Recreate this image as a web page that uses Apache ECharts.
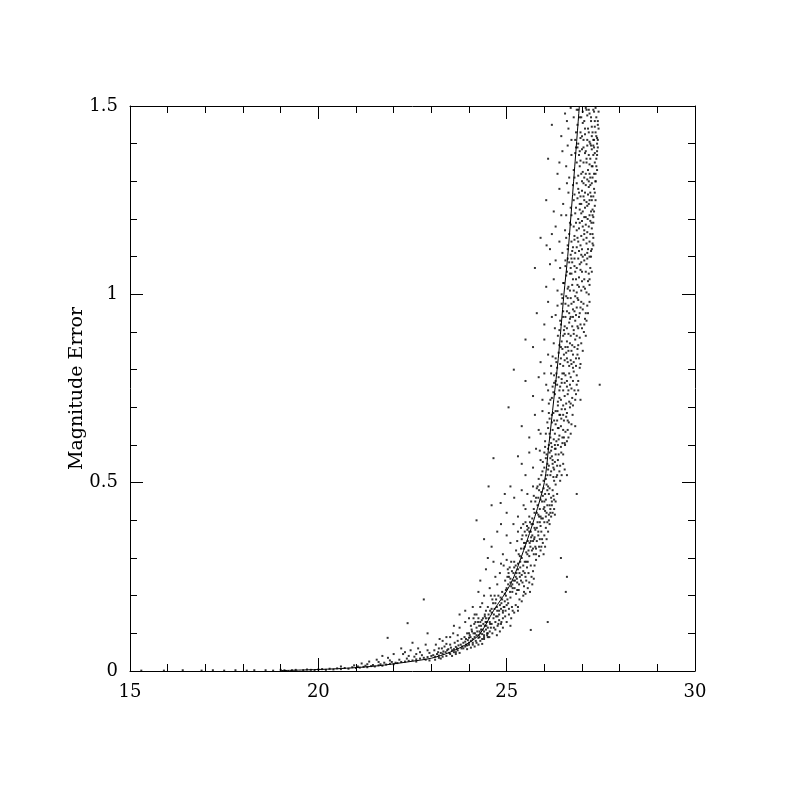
<!DOCTYPE html>
<html>
<head>
<meta charset="utf-8">
<script src="https://cdn.jsdelivr.net/npm/echarts@6/dist/echarts.min.js"></script>
<style>html,body{margin:0;padding:0;background:#fff;}#chart{width:800px;height:800px;}</style>
</head>
<body>
<div id="chart"></div>
<script>
// Axis ticks
const xTicks = [15, 20, 25, 30];
const yTicks = [0, 0.5, 1, 1.5];

// Fitted error curve (magnitude, error)
const curveMag = [19.0, 20.0, 20.5, 21.0, 21.5, 22.0, 22.5, 23.0, 23.5, 24.0, 24.3, 24.65, 25.1, 25.45, 25.75, 26.0, 26.12, 26.25, 26.37, 26.52, 26.62, 26.7, 26.8, 26.93];
const curveErr = [0.001, 0.004, 0.006, 0.009, 0.013, 0.019, 0.026, 0.034, 0.05, 0.075, 0.1, 0.16, 0.23, 0.32, 0.41, 0.5, 0.6, 0.72, 0.83, 1.0, 1.1, 1.2, 1.33, 1.5];

// Individual stars [magnitude, error]
const brightStars = [
[15.3,0.001],[15.9,0.001],[16.4,0.002],[16.9,0.001],[17.2,0.002],[17.5,0.001],[17.8,0.002],[18.1,0.001],[18.3,0.002],[18.6,0.002],[18.8,0.001],[19.0,0.003],[19.1,0.002],[19.3,0.002],[19.4,0.003],[19.6,0.002],[19.7,0.004],[19.8,0.003],[19.9,0.002],[20.0,0.004],[20.1,0.005],[20.2,0.003],[20.3,0.006],[20.4,0.004],[20.5,0.007],[20.6,0.005],[20.7,0.008],[20.8,0.006],[20.9,0.01],[21.0,0.008],[20.95,0.015],[20.6,0.012],
[21.05,0.012],[21.1,0.009],[21.15,0.02],[21.2,0.011],[21.25,0.014],[21.3,0.01],[21.35,0.025],[21.4,0.013],[21.45,0.016],[21.5,0.012],[21.55,0.03],[21.6,0.015],[21.65,0.018],[21.7,0.014],[21.75,0.022],[21.8,0.017],[21.85,0.035],[21.9,0.019],[21.95,0.024],[22.0,0.018],[21.6,0.024],[21.3,0.018],[21.9,0.028],[22.05,0.022],[21.7,0.04],
[22.1,0.021],[22.15,0.03],[22.2,0.024],[22.25,0.045],[22.3,0.025],[22.35,0.033],[22.4,0.027],[22.45,0.055],[22.5,0.028],[22.55,0.038],[22.6,0.031],[22.65,0.06],[22.7,0.033],[22.75,0.042],[22.8,0.035],[22.85,0.07],[22.9,0.037],[22.95,0.048],[23.0,0.04],[22.8,0.19],[22.4,0.04],[22.6,0.045],[22.9,0.055],[22.7,0.05],[22.3,0.05],[22.2,0.06],[22.5,0.075],[22.0,0.045],[22.85,0.03],[22.6,0.025],[22.37,0.127],[21.84,0.088],[22.9,0.1]
];
const midStars = [
[23.05,0.042],[23.08,0.055],[23.1,0.038],[23.12,0.07],[23.15,0.045],[23.18,0.05],[23.2,0.041],[23.22,0.085],[23.25,0.048],[23.28,0.06],[23.3,0.046],[23.32,0.052],[23.35,0.065],[23.38,0.05],[23.4,0.09],[23.42,0.055],[23.45,0.058],[23.48,0.048],[23.5,0.07],[23.52,0.062],[23.55,0.055],[23.58,0.1],[23.6,0.058],[23.62,0.075],[23.65,0.064],[23.68,0.06],[23.7,0.08],[23.72,0.068],[23.75,0.115],[23.78,0.07],[23.8,0.085],[23.82,0.065],[23.85,0.075],[23.88,0.09],[23.9,0.078],[23.92,0.07],[23.95,0.1],[23.97,0.082],[24.0,0.088],[24.0,0.075],[23.3,0.08],[23.6,0.12],[23.9,0.13],[23.5,0.09],[23.7,0.095],[23.2,0.06],[23.85,0.06],[23.65,0.05],[23.95,0.068],[23.4,0.072],
[24.02,0.095],[24.05,0.08],[24.07,0.11],[24.1,0.085],[24.12,0.1],[24.15,0.09],[24.17,0.13],[24.2,0.095],[24.22,0.105],[24.25,0.088],[24.27,0.12],[24.3,0.1],[24.32,0.11],[24.35,0.098],[24.37,0.14],[24.4,0.105],[24.42,0.12],[24.45,0.11],[24.47,0.13],[24.5,0.115],[24.05,0.12],[24.15,0.15],[24.3,0.17],[24.2,0.4],[24.45,0.16],[24.35,0.085],[24.48,0.095],[24.1,0.075],[24.4,0.09],[24.25,0.14],[24.5,0.1],[24.38,0.125],[24.28,0.09],[24.18,0.08],[24.42,0.15],[24.12,0.14],[24.55,0.105],
[23.75,0.15],[23.9,0.16],[24.0,0.14],[24.1,0.17],[24.2,0.15],[24.3,0.13],[24.35,0.18],[24.45,0.14],[24.5,0.17],[24.55,0.13],[24.6,0.155],[24.62,0.19],[24.65,0.14],[24.68,0.165],[24.7,0.18],[24.72,0.145],[24.75,0.16],[24.78,0.2],[24.8,0.15],[24.82,0.175],[24.85,0.165],[24.88,0.19],[24.9,0.155],[24.92,0.17],[24.95,0.185],[24.97,0.16],[25.0,0.175],[25.02,0.19],[24.6,0.125],[24.7,0.13],[24.8,0.135],[24.9,0.14],[24.58,0.2],[24.4,0.2],[24.25,0.21],[24.85,0.125],[25.3,0.16],[25.64,0.109],[26.09,0.13],[24.66,0.115],[24.76,0.12],
[24.3,0.24],[24.45,0.27],[24.55,0.22],[24.65,0.29],[24.75,0.23],[24.82,0.26],[24.88,0.21],[24.92,0.28],[24.96,0.24],[25.0,0.22],[25.03,0.27],[25.06,0.25],[25.09,0.21],[25.12,0.29],[25.15,0.23],[25.18,0.26],[25.21,0.22],[25.24,0.28],[25.27,0.245],[25.3,0.27],[25.33,0.23],[25.36,0.29],[25.4,0.255],[25.44,0.28],[25.48,0.26],[25.52,0.29],[25.1,0.235],[25.2,0.275],[25.0,0.295],[24.95,0.205],[25.25,0.205],[25.35,0.25],[25.05,0.26],[25.15,0.21],[24.85,0.285],[24.7,0.25],[26.57,0.21],[26.6,0.25],[25.42,0.235],[25.28,0.215],[24.5,0.3],
[24.6,0.33],[24.75,0.37],[24.9,0.31],[25.0,0.36],[25.1,0.34],[25.18,0.39],[25.25,0.32],[25.3,0.37],[25.35,0.305],[25.4,0.35],[25.44,0.39],[25.48,0.33],[25.52,0.36],[25.55,0.31],[25.58,0.38],[25.61,0.34],[25.64,0.37],[25.67,0.32],[25.7,0.39],[25.73,0.35],[25.76,0.33],[25.8,0.38],[25.84,0.36],[25.88,0.395],[25.5,0.395],[25.6,0.305],[25.7,0.345],[25.45,0.325],[25.55,0.375],[25.65,0.355],[25.38,0.38],[25.28,0.345],[25.92,0.37],[26.44,0.3],[24.4,0.35],[24.85,0.39],[25.78,0.31],[25.62,0.395],[25.5,0.34],[25.74,0.38]
];
const faintStars = [
[24.6,0.44],[25.0,0.42],[25.2,0.46],[25.3,0.41],[25.4,0.48],[25.5,0.43],[25.55,0.47],[25.6,0.41],[25.65,0.45],[25.7,0.49],[25.74,0.42],[25.78,0.46],[25.82,0.44],[25.86,0.48],[25.9,0.41],[25.94,0.45],[25.98,0.43],[26.02,0.47],[26.06,0.42],[26.1,0.49],[26.14,0.44],[26.18,0.46],[26.22,0.48],[26.3,0.45],[25.88,0.495],[25.96,0.405],[26.04,0.455],[25.84,0.415],[26.12,0.415],[25.72,0.465],[25.92,0.475],[26.0,0.435],[25.45,0.44],[25.1,0.49],[24.95,0.47],[26.26,0.43],[25.8,0.485],[26.08,0.48],[24.52,0.49],[24.84,0.446],[26.86,0.47],
[25.3,0.57],[25.5,0.52],[25.6,0.58],[25.7,0.54],[25.78,0.59],[25.85,0.51],[25.9,0.56],[25.95,0.53],[26.0,0.58],[26.04,0.51],[26.08,0.55],[26.12,0.6],[26.16,0.52],[26.2,0.57],[26.24,0.54],[26.28,0.59],[26.32,0.515],[26.36,0.56],[26.4,0.53],[26.45,0.58],[26.5,0.55],[26.55,0.6],[26.1,0.535],[26.18,0.585],[26.26,0.505],[26.34,0.545],[26.06,0.575],[25.98,0.505],[26.42,0.505],[26.3,0.575],[25.88,0.585],[24.65,0.565],[25.4,0.55],[26.6,0.52],[26.22,0.55],
[25.4,0.65],[25.6,0.62],[25.75,0.68],[25.85,0.64],[25.95,0.69],[26.02,0.61],[26.08,0.66],[26.14,0.63],[26.2,0.68],[26.25,0.615],[26.3,0.655],[26.35,0.69],[26.4,0.625],[26.45,0.67],[26.5,0.64],[26.55,0.695],[26.6,0.61],[26.65,0.66],[26.7,0.63],[26.75,0.68],[26.82,0.65],[26.28,0.6],[26.38,0.645],[26.48,0.605],[26.58,0.675],[26.18,0.605],[26.22,0.64],[26.42,0.68],[26.62,0.64],[26.12,0.685],[25.05,0.7],[25.9,0.63],[26.52,0.62],[26.34,0.665],
[25.5,0.77],[25.19,0.8],[25.7,0.73],[25.85,0.78],[25.95,0.72],[26.05,0.76],[26.12,0.71],[26.18,0.79],[26.24,0.74],[26.3,0.77],[26.36,0.715],[26.42,0.755],[26.48,0.79],[26.54,0.73],[26.6,0.77],[26.66,0.715],[26.72,0.75],[26.78,0.795],[26.84,0.735],[26.9,0.77],[26.96,0.72],[26.5,0.705],[26.56,0.785],[26.64,0.745],[26.7,0.78],[26.4,0.725],[26.26,0.765],[26.32,0.79],[26.76,0.705],[26.86,0.76],[26.1,0.745],[26.2,0.725],[26.46,0.765],[26.0,0.79],[27.47,0.76],
[25.7,0.86],[25.9,0.82],[26.0,0.88],[26.1,0.84],[26.18,0.81],[26.25,0.87],[26.3,0.83],[26.36,0.89],[26.42,0.815],[26.48,0.855],[26.54,0.825],[26.6,0.875],[26.66,0.81],[26.72,0.85],[26.78,0.895],[26.84,0.83],[26.9,0.865],[26.96,0.815],[27.02,0.85],[26.58,0.845],[26.7,0.825],[26.82,0.88],[26.5,0.89],[26.64,0.895],[26.76,0.805],[26.88,0.84],[26.44,0.86],[26.22,0.835],[26.94,0.885],[26.34,0.805],[25.5,0.88],[26.62,0.86],
[25.8,0.95],[26.0,0.92],[26.1,0.98],[26.2,0.94],[26.28,0.91],[26.35,0.97],[26.42,0.93],[26.48,0.99],[26.54,0.915],[26.6,0.955],[26.66,0.925],[26.72,0.975],[26.78,0.905],[26.84,0.945],[26.9,0.985],[26.96,0.92],[27.02,0.96],[27.08,0.935],[26.7,0.94],[26.82,0.995],[26.94,0.95],[26.62,0.99],[26.76,0.96],[26.88,0.915],[26.56,0.975],[26.4,0.905],[26.98,0.98],[26.3,0.945],[27.05,0.9],[26.5,0.94],
[25.75,1.07],[26.05,1.02],[26.15,1.08],[26.25,1.04],[26.35,1.01],[26.42,1.07],[26.5,1.03],[26.56,1.09],[26.62,1.015],[26.68,1.055],[26.74,1.025],[26.8,1.075],[26.86,1.005],[26.92,1.045],[26.98,1.085],[27.04,1.02],[27.1,1.06],[27.16,1.035],[26.72,1.095],[26.84,1.04],[26.96,1.065],[27.06,1.09],[26.6,1.06],[26.78,1.01],[26.9,1.095],[27.12,1.005],[26.46,1.0],[26.66,1.085],[27.0,1.035],[26.3,1.09],
[25.9,1.15],[26.15,1.12],[26.3,1.18],[26.4,1.14],[26.48,1.11],[26.55,1.17],[26.62,1.13],[26.68,1.19],[26.74,1.115],[26.8,1.155],[26.86,1.125],[26.92,1.175],[26.98,1.105],[27.04,1.145],[27.1,1.185],[27.16,1.12],[27.22,1.16],[27.28,1.135],[26.9,1.14],[27.0,1.195],[27.12,1.15],[27.2,1.1],[26.84,1.19],[26.96,1.13],[27.06,1.17],[26.7,1.105],[26.58,1.15],[27.25,1.19],[26.2,1.16],[27.14,1.11],[26.06,1.13],
[26.05,1.25],[26.25,1.22],[26.4,1.28],[26.5,1.24],[26.58,1.21],[26.64,1.27],[26.7,1.23],[26.76,1.29],[26.82,1.215],[26.88,1.255],[26.94,1.225],[27.0,1.275],[27.06,1.205],[27.12,1.245],[27.18,1.285],[27.24,1.22],[27.3,1.26],[27.34,1.235],[27.04,1.26],[27.15,1.2],[27.26,1.295],[26.98,1.24],[27.1,1.29],[27.2,1.25],[26.9,1.28],[26.6,1.295],[27.28,1.21],[26.45,1.21],[27.08,1.23],[27.22,1.27],
[26.1,1.36],[26.35,1.32],[26.48,1.38],[26.58,1.34],[26.66,1.31],[26.72,1.37],[26.78,1.33],[26.84,1.39],[26.9,1.315],[26.96,1.355],[27.02,1.325],[27.08,1.375],[27.14,1.305],[27.2,1.345],[27.26,1.385],[27.32,1.32],[27.38,1.36],[27.3,1.395],[27.22,1.31],[27.12,1.35],[27.04,1.39],[27.28,1.34],[27.36,1.3],[26.94,1.38],[27.18,1.37],[26.62,1.395],[26.4,1.35],[27.1,1.32],[27.34,1.375],[27.0,1.3],
[26.2,1.45],[26.45,1.42],[26.55,1.48],[26.64,1.44],[26.72,1.41],[26.78,1.47],[26.84,1.43],[26.9,1.49],[26.96,1.415],[27.02,1.455],[27.08,1.425],[27.14,1.475],[27.2,1.405],[27.26,1.445],[27.32,1.485],[27.38,1.42],[27.42,1.46],[27.36,1.495],[27.3,1.41],[27.24,1.47],[27.16,1.44],[27.1,1.495],[27.04,1.41],[27.34,1.445],[27.4,1.4],[26.6,1.46],[26.7,1.495],[27.18,1.49],[27.28,1.43],[26.98,1.47]
];
const coreStars = [
[23.92,0.085],[24.04,0.09],[24.16,0.1],[24.26,0.095],[24.36,0.11],[24.46,0.12],[24.56,0.125],[24.08,0.105],[24.2,0.115],[24.32,0.12],[24.44,0.13],[24.52,0.14],[24.14,0.125],[24.24,0.13],[24.34,0.135],[24.58,0.115],[24.0,0.1],[24.28,0.105],[24.4,0.095],[24.48,0.1],
[24.42,0.145],[24.52,0.15],[24.6,0.165],[24.66,0.15],[24.74,0.17],[24.8,0.16],[24.86,0.18],[24.94,0.17],[25.04,0.18],[25.1,0.195],[24.64,0.18],[24.72,0.19],[24.84,0.195],[24.98,0.2],[25.14,0.17],[24.76,0.145],[24.9,0.16],[25.06,0.165],[24.56,0.16],[24.68,0.2],
[24.98,0.215],[25.04,0.23],[25.1,0.245],[25.16,0.22],[25.22,0.24],[25.26,0.26],[25.32,0.215],[25.38,0.24],[25.44,0.265],[25.5,0.25],[25.08,0.275],[25.14,0.265],[25.2,0.29],[25.3,0.285],[25.4,0.3],[25.46,0.21],[25.54,0.275],[25.24,0.25],[25.34,0.26],[25.18,0.24],[25.02,0.25],[25.12,0.225],[25.28,0.235],[25.36,0.275],[25.48,0.29],
[25.32,0.31],[25.38,0.325],[25.42,0.36],[25.46,0.34],[25.52,0.315],[25.56,0.345],[25.6,0.37],[25.63,0.33],[25.68,0.36],[25.72,0.31],[25.76,0.375],[25.8,0.345],[25.86,0.33],[25.9,0.385],[25.54,0.385],[25.66,0.39],[25.7,0.325],[25.74,0.355],[25.82,0.395],[25.58,0.32],[25.48,0.37],[25.94,0.35],[25.64,0.345],[25.78,0.325],[25.84,0.37],
[25.68,0.405],[25.72,0.43],[25.76,0.45],[25.8,0.42],[25.84,0.46],[25.88,0.43],[25.92,0.405],[25.96,0.465],[26.0,0.45],[26.04,0.41],[26.08,0.44],[26.12,0.47],[26.16,0.42],[26.2,0.45],[26.24,0.465],[26.28,0.415],[26.34,0.47],[25.9,0.455],[25.98,0.485],[26.06,0.495],[26.14,0.485],[25.82,0.49],[26.3,0.495],[26.02,0.425],[25.86,0.41],
[25.92,0.52],[25.96,0.555],[26.0,0.54],[26.04,0.565],[26.08,0.52],[26.12,0.545],[26.14,0.58],[26.18,0.53],[26.22,0.56],[26.26,0.535],[26.3,0.59],[26.34,0.52],[26.38,0.575],[26.42,0.545],[26.46,0.52],[26.5,0.575],[26.54,0.535],[26.02,0.595],[26.1,0.59],[26.2,0.595],[26.28,0.555],[26.36,0.6],[26.44,0.595],[26.16,0.565],[26.24,0.515],
[26.04,0.63],[26.1,0.645],[26.16,0.62],[26.2,0.66],[26.24,0.685],[26.28,0.63],[26.32,0.61],[26.36,0.645],[26.4,0.68],[26.44,0.65],[26.48,0.62],[26.52,0.665],[26.56,0.635],[26.6,0.685],[26.64,0.62],[26.68,0.7],[26.72,0.655],[26.14,0.67],[26.26,0.665],[26.46,0.695],[26.54,0.605],[26.62,0.665],[26.38,0.615],[26.3,0.69],[26.5,0.68],
[26.16,0.72],[26.22,0.755],[26.28,0.735],[26.34,0.76],[26.38,0.78],[26.44,0.72],[26.5,0.745],[26.54,0.765],[26.58,0.71],[26.62,0.735],[26.68,0.76],[26.74,0.725],[26.8,0.745],[26.86,0.785],[26.4,0.745],[26.52,0.79],[26.6,0.755],[26.66,0.79],[26.7,0.71],[26.76,0.77],[26.82,0.72],[26.46,0.775],[26.36,0.705],[26.26,0.785],[26.9,0.745],
[26.32,0.82],[26.38,0.845],[26.44,0.83],[26.5,0.81],[26.56,0.86],[26.6,0.83],[26.64,0.85],[26.68,0.87],[26.72,0.815],[26.76,0.84],[26.8,0.86],[26.84,0.81],[26.88,0.855],[26.92,0.83],[26.98,0.87],[26.46,0.875],[26.54,0.895],[26.62,0.82],[26.7,0.89],[26.78,0.82],[26.86,0.89],[26.94,0.805],[26.4,0.865],[26.52,0.84],[26.74,0.865],
[26.44,0.92],[26.5,0.955],[26.56,0.94],[26.6,0.91],[26.64,0.97],[26.68,0.935],[26.74,0.915],[26.78,0.98],[26.82,0.93],[26.86,0.965],[26.92,0.94],[27.0,0.91],[27.04,0.975],[27.1,0.95],[26.58,0.995],[26.7,0.99],[26.8,0.955],[26.96,0.965],[27.06,0.92],[26.52,0.905],[26.66,0.95],[26.88,0.99],[26.46,0.975],[26.76,0.94],[26.9,0.91],
[26.52,1.03],[26.58,1.05],[26.64,1.02],[26.7,1.07],[26.76,1.04],[26.82,1.06],[26.88,1.025],[26.94,1.08],[27.0,1.06],[27.06,1.04],[27.12,1.08],[27.18,1.055],[26.62,1.095],[26.74,1.085],[26.86,1.07],[26.98,1.01],[27.08,1.015],[27.14,1.095],[26.56,1.075],[26.68,1.01],[26.8,1.095],[26.92,1.02],[27.02,1.1],[26.72,1.055],[27.2,1.025],
[26.62,1.12],[26.66,1.16],[26.72,1.14],[26.78,1.18],[26.82,1.11],[26.88,1.15],[26.94,1.19],[27.0,1.12],[27.06,1.16],[27.12,1.135],[27.18,1.18],[27.24,1.115],[27.3,1.15],[26.76,1.125],[26.86,1.17],[26.98,1.155],[27.08,1.105],[27.2,1.14],[27.26,1.175],[26.7,1.185],[26.92,1.115],[27.02,1.18],[27.14,1.165],[26.8,1.145],[27.22,1.195],
[26.72,1.21],[26.78,1.25],[26.84,1.23],[26.9,1.2],[26.96,1.26],[27.02,1.22],[27.08,1.27],[27.14,1.235],[27.2,1.21],[27.26,1.25],[27.32,1.28],[27.28,1.225],[27.22,1.29],[27.16,1.265],[27.1,1.205],[27.04,1.295],[26.98,1.215],[26.92,1.27],[26.86,1.295],[26.8,1.265],[27.3,1.205],[27.18,1.24],[27.06,1.25],[26.94,1.24],[27.24,1.26],
[26.8,1.31],[26.86,1.35],[26.92,1.37],[26.98,1.32],[27.04,1.35],[27.1,1.38],[27.16,1.33],[27.22,1.36],[27.28,1.31],[27.34,1.35],[27.4,1.38],[27.36,1.32],[27.3,1.37],[27.24,1.395],[27.18,1.3],[27.12,1.36],[27.06,1.31],[27.0,1.385],[26.94,1.34],[26.88,1.39],[26.82,1.375],[27.26,1.34],[27.14,1.395],[27.32,1.39],[27.2,1.32],
[26.82,1.41],[26.88,1.45],[26.94,1.47],[27.0,1.42],[27.06,1.46],[27.12,1.49],[27.18,1.43],[27.24,1.46],[27.3,1.49],[27.36,1.43],[27.42,1.45],[27.44,1.485],[27.38,1.47],[27.32,1.41],[27.26,1.42],[27.2,1.48],[27.14,1.41],[27.08,1.44],[27.02,1.485],[26.96,1.43],[26.9,1.4],[26.86,1.49],[27.22,1.4],[27.34,1.46],[27.4,1.415]
];
const edgeStars = [
[24.62,0.1],[24.7,0.11],[24.78,0.125],[24.86,0.13],[24.96,0.145],[25.06,0.15],[25.16,0.16],[25.24,0.175],[25.34,0.19],[24.74,0.095],[24.9,0.115],[25.0,0.13],[25.12,0.14],[25.2,0.155],[25.3,0.17],[25.4,0.185],[25.44,0.2],[24.54,0.09],[24.82,0.105],[25.1,0.12],
[25.5,0.205],[25.56,0.22],[25.6,0.235],[25.66,0.25],[25.7,0.265],[25.74,0.28],[25.78,0.295],[25.58,0.26],[25.64,0.28],[25.52,0.24],[25.62,0.21],[25.68,0.23],[25.72,0.245],[25.56,0.29],[25.46,0.225],
[25.86,0.305],[25.9,0.32],[25.96,0.34],[26.0,0.36],[26.04,0.38],[26.08,0.395],[26.12,0.4],[26.16,0.43],[26.2,0.44],[25.98,0.31],[26.02,0.33],[26.06,0.35],[26.1,0.37],[26.14,0.39],[25.92,0.33],[26.18,0.41],[26.22,0.42],[26.26,0.455],[25.88,0.35],[26.0,0.395],
[23.1,0.03],[23.2,0.035],[23.3,0.038],[23.4,0.04],[23.5,0.045],[23.6,0.05],[23.7,0.055],[23.8,0.06],[23.9,0.065],[24.0,0.07],[24.1,0.07],[24.2,0.075],[24.3,0.08],[24.4,0.085],[24.5,0.09],[23.55,0.04],[23.75,0.048],[23.95,0.058],[24.15,0.065],[24.35,0.072],[22.95,0.028],[23.25,0.033],[23.65,0.045],[24.05,0.062],[24.25,0.07],
[27.12,0.93],[27.14,0.97],[27.18,1.0],[27.2,1.04],[27.22,1.07],[27.24,1.1],[27.26,1.12],[27.28,1.16],[27.3,1.19],[27.32,1.22],[27.34,1.27],[27.36,1.3],[27.38,1.34],[27.4,1.37],[27.42,1.41],[27.44,1.44],[27.2,0.98],[27.26,1.06],[27.3,1.13],[27.36,1.25],[27.4,1.33],[27.42,1.39],[27.1,0.89],[27.16,0.95]
];

const curveData = curveMag.map((m, i) => [m, curveErr[i]]);
const starData = brightStars.concat(midStars, faintStars, coreStars, edgeStars);

const FONT = 'DejaVu Serif';
const chart = echarts.init(document.getElementById('chart'), null, {renderer: 'canvas'});

function makeX(pos, showLabels) {
  return {
    type: 'value', position: pos, min: xTicks[0], max: xTicks[xTicks.length - 1], interval: 5,
    axisLine: {show: true, onZero: false, lineStyle: {color: '#000', width: 1}},
    axisTick: {show: true, inside: true, length: 13, lineStyle: {color: '#000'}},
    minorTick: {show: true, splitNumber: 5, length: 7, lineStyle: {color: '#000'}},
    axisLabel: {show: showLabels, margin: 12, color: '#000', fontFamily: FONT, fontSize: 18},
    splitLine: {show: false}, minorSplitLine: {show: false}
  };
}
function makeY(pos, showLabels) {
  return {
    type: 'value', position: pos, min: yTicks[0], max: yTicks[yTicks.length - 1], interval: 0.5,
    axisLine: {show: true, onZero: false, lineStyle: {color: '#000', width: 1}},
    axisTick: {show: true, inside: true, length: 13, lineStyle: {color: '#000'}},
    minorTick: {show: true, splitNumber: 5, length: 7, lineStyle: {color: '#000'}},
    axisLabel: {show: showLabels, margin: 12, color: '#000', fontFamily: FONT, fontSize: 18},
    splitLine: {show: false}, minorSplitLine: {show: false}
  };
}

const yLeft = makeY('left', true);
yLeft.name = 'Magnitude Error';
yLeft.nameLocation = 'middle';
yLeft.nameGap = 43;
yLeft.nameMoveOverlap = false;
yLeft.nameTextStyle = {color: '#000', fontFamily: FONT, fontSize: 19};

chart.setOption({
  animation: false,
  backgroundColor: '#fff',
  grid: {left: 130, right: 105, top: 106, bottom: 129, containLabel: false},
  xAxis: [makeX('bottom', true), makeX('top', false)],
  yAxis: [yLeft, makeY('right', false)],
  series: [
    {
      type: 'scatter', xAxisIndex: 0, yAxisIndex: 0, data: starData,
      symbol: 'rect', symbolSize: 2, itemStyle: {color: '#000'}, silent: true
    },
    {
      type: 'line', xAxisIndex: 0, yAxisIndex: 0, data: curveData, smooth: 0.3,
      showSymbol: false, lineStyle: {color: '#000', width: 1}, silent: true
    }
  ]
});
</script>
</body>
</html>
